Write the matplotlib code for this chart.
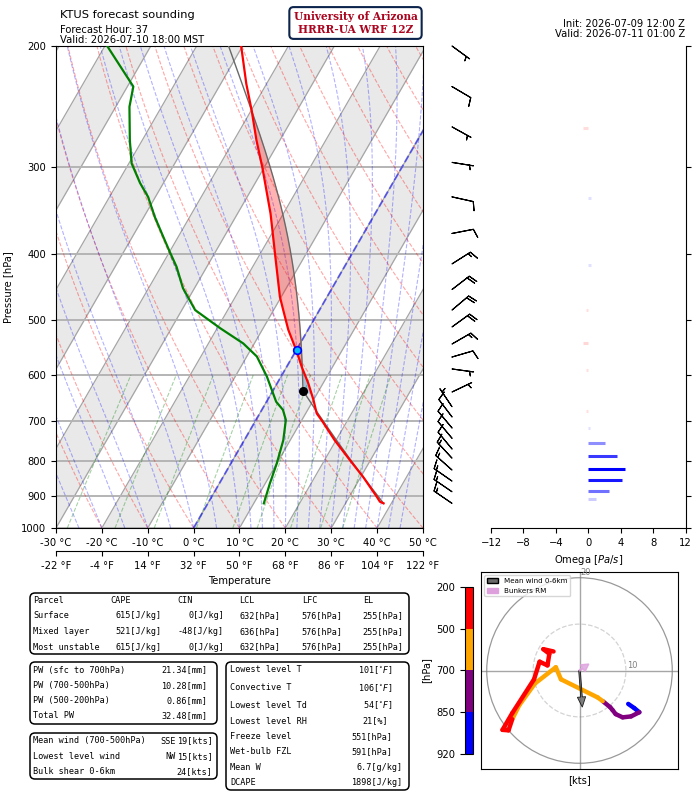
import numpy as np
import matplotlib
matplotlib.use("Agg")
import matplotlib.pyplot as plt
from matplotlib.patches import FancyBboxPatch, Circle, Patch
from matplotlib.collections import LineCollection
from matplotlib.colors import ListedColormap, BoundaryNorm
from matplotlib.colorbar import ColorbarBase
from matplotlib.ticker import NullLocator
from matplotlib.transforms import IdentityTransform

plt.rcParams['font.size'] = 7.2

# sounding
temp_p = [921, 916, 901, 843, 797, 746, 700, 682, 652, 617, 584, 555, 516, 483,
          462, 400, 350, 300, 274, 248, 227, 200]
temp_c = [38.3, 37.3, 36.0, 30.5, 25.5, 19.7, 14.6, 12.4, 10.0, 6.8, 3.3, 0.3,
          -4.3, -7.9, -10.3, -16.8, -22.8, -30.4, -35.1, -39.9, -44.4, -50.3]
dwpt_p = [921, 861, 806, 746, 697, 674, 656, 631, 603, 564, 540, 513, 483, 449,
          418, 398, 374, 354, 331, 316, 296, 274, 245, 229, 200]
dwpt_c = [12.2, 11.0, 10.0, 8.5, 6.5, 4.6, 2.1, -0.3, -3.1, -7.8, -12.4, -19.4,
          -27.1, -32.5, -36.6, -39.9, -44.0, -47.6, -51.6, -55.1, -59.4, -62.7,
          -67.0, -68.7, -79.5]

# winds in kts
wind_p = [921, 886, 855, 824, 792, 768, 741, 716, 690, 667, 635, 588, 565, 541,
          511, 483, 451, 414, 374, 331, 295, 262, 229, 200]
wind_u = [10.5, 11.8, 12.9, 11.1, 9.3, 7.8, 7.1, 6.6, 5.0, 3.9, -4.0, -5.1, -9.6,
          -13.0, -14.5, -15.3, -16.6, -14.5, -9.8, -8.6, -6.9, -6.5, -7.8, -5.6]
wind_v = [-7.2, -8.1, -9.0, -9.9, -10.1, -9.4, -8.5, -7.9, -6.6, -5.8, -1.9, 0.7,
          -2.8, -7.5, -10.5, -12.9, -12.8, -9.2, -1.9, 1.9, 1.1, 3.6, 4.6, 4.1]

omega_p = [909, 884, 853, 820, 786, 752, 716, 677, 590, 540, 483, 415, 332, 263]
omega_v = [0.9, 2.5, 4.1, 4.5, 3.5, 2.0, 0.2, -0.3, -0.3, -0.7, -0.3, 0.3, 0.3, -0.6]

lcl_p = 632
lfc_p = 576
el_p = 255
freeze_p = 551

hodo_bounds = [920, 850, 700, 500, 200]
hodo_colors = ['blue', 'purple', 'orange', 'red']
mean_wind = (0.6, -7.9)
bunkers_rm = (2.0, 1.4)

parcel_names = ['Surface', 'Mixed layer', 'Most unstable']
parcel_cape = [615, 521, 615]
parcel_cin = [0, -48, 0]
parcel_lcl = [632, 636, 632]
parcel_lfc = [576, 576, 576]
parcel_el = [255, 255, 255]

pw_labels = ['PW (sfc to 700hPa)', 'PW (700-500hPa)', 'PW (500-200hPa)', 'Total PW']
pw_values = [21.34, 10.28, 0.86, 32.48]

wind_labels = ['Mean wind (700-500hPa)', 'Lowest level wind', 'Bulk shear 0-6km']
wind_dirs = ['SSE', 'NW', '']
wind_speeds = [19, 15, 24]

thermo_labels = ['Lowest level T', 'Convective T', 'Lowest level Td', 'Lowest level RH',
                 'Freeze level', 'Wet-bulb FZL', 'Mean W', 'DCAPE']
thermo_values = ['101[$^{\\circ}F$]', '106[$^{\\circ}F$]', '54[$^{\\circ}F$]', '21[%]',
                 '551[hPa]', '591[hPa]', '6.7[g/kg]', '1898[J/kg]']

W, H = 697, 792
fig = plt.figure(figsize=(W / 100, H / 100), dpi=100)


def fbox(x0, y0, x1, y1):
    # pixel box (from top-left) -> figure fraction rect
    return [x0 / W, 1 - y1 / H, (x1 - x0) / W, (y1 - y0) / H]


# ---------------- skew-T ----------------
ax = fig.add_axes(fbox(56, 46, 423, 528))
ax.set_yscale('log')
ax.set_ylim(1000, 200)
ax.set_xlim(-30, 50)
K = np.tan(np.radians(30)) * (482 / np.log(5)) * (80 / 367)


def skx(t, p):
    return np.asarray(t, float) + K * np.log(1000 / np.asarray(p, float))


def sat_vp(t_c):
    return 6.112 * np.exp(17.67 * t_c / (t_c + 243.5))


def moist_dtdp(t_k, p):
    es = sat_vp(t_k - 273.15)
    rs = 0.622 * es / (p - es)
    num = 287.04 * t_k + 2.501e6 * rs
    den = 1005.7 + 2.501e6 ** 2 * rs * 0.622 / (287.04 * t_k ** 2)
    return num / den / p


def moist_lapse(t0_c, pres):
    t = np.atleast_1d(np.asarray(t0_c, float)) + 273.15
    out = [t.copy()]
    for p0, p1 in zip(pres[:-1], pres[1:]):
        h = p1 - p0
        k1 = moist_dtdp(t, p0)
        k2 = moist_dtdp(t + h / 2 * k1, p0 + h / 2)
        k3 = moist_dtdp(t + h / 2 * k2, p0 + h / 2)
        k4 = moist_dtdp(t + h * k3, p1)
        t = t + h / 6 * (k1 + 2 * k2 + 2 * k3 + k4)
        out.append(t.copy())
    return np.array(out) - 273.15


pp = np.geomspace(1000, 200, 80)
# shaded isotherm bands + isotherms
for t1 in range(-100, 41, 20):
    ax.fill_betweenx([1000, 200], skx([t1, t1], [1000, 200]), skx([t1 + 10] * 2, [1000, 200]),
                     color='#e9e9e9', lw=0, zorder=0)
for t in range(-100, 51, 10):
    ax.plot(skx([t, t], [1000, 200]), [1000, 200], color='#a5a5a5', lw=0.9, zorder=1)
for p in range(200, 1001, 100):
    ax.axhline(p, color='#b4b4b4', lw=1.4, zorder=1)

# dry adiabats
for th in np.arange(-40, 201, 10):
    tt = (th + 273.15) * (pp / 1000) ** 0.2857 - 273.15
    ax.plot(skx(tt, pp), pp, color='red', ls='--', lw=0.8, alpha=0.35, zorder=1)
# moist adiabats
t0_moist = np.concatenate((np.arange(-50., 10.1, 5.), np.arange(12.5, 45.1, 2.5)))
tm = moist_lapse(t0_moist, pp)
for i in range(len(t0_moist)):
    ax.plot(skx(tm[:, i], pp), pp, color='blue', ls='--', lw=0.8, alpha=0.3, zorder=1)
# mixing ratio lines
pm = np.linspace(1000, 600, 20)
for w in [0.0004, 0.001, 0.002, 0.004, 0.007, 0.01, 0.016, 0.024, 0.032]:
    e = w * pm / (0.622 + w)
    le = np.log(e / 6.112)
    td = 243.5 * le / (17.67 - le)
    ax.plot(skx(td, pm), pm, color='green', ls='--', lw=0.8, alpha=0.35, zorder=1)
# 0 degC isotherm
ax.plot(skx([0, 0], [1000, 200]), [1000, 200], color='blue', ls='--', lw=1.4, alpha=0.5, zorder=2)

# parcel
sfc_p, sfc_t = temp_p[0], temp_c[0]
theta = (sfc_t + 273.15) * (1000 / sfc_p) ** 0.2857
p_dry = np.geomspace(sfc_p, lcl_p, 30)
t_dry = theta * (p_dry / 1000) ** 0.2857 - 273.15
t_lcl = t_dry[-1]
p_moist = np.geomspace(lcl_p, 200, 150)
t_moist = moist_lapse(t_lcl, p_moist)[:, 0]
prof_p = np.concatenate((p_dry, p_moist[1:]))
prof_t = np.concatenate((t_dry, t_moist[1:]))
env_t = np.interp(np.log(prof_p)[::-1], np.log(temp_p)[::-1], np.array(temp_c)[::-1])[::-1]

ax.fill_betweenx(prof_p, skx(env_t, prof_p), skx(prof_t, prof_p),
                 where=(prof_t > env_t) & (prof_p <= lcl_p), interpolate=True,
                 color='red', alpha=0.3, lw=0, zorder=3)
ax.fill_betweenx(prof_p, skx(env_t, prof_p), skx(prof_t, prof_p),
                 where=(prof_t < env_t) & (prof_p <= lcl_p) & (prof_p >= lfc_p - 5), interpolate=True,
                 color='tab:blue', alpha=0.35, lw=0, zorder=3)
ax.plot(skx(prof_t, prof_p), prof_p, color='dimgray', lw=1, zorder=4)

ax.plot(skx(temp_c, temp_p), temp_p, color='red', lw=1.6, zorder=5)
ax.plot(skx(dwpt_c, dwpt_p), dwpt_p, color='green', lw=1.6, zorder=5)
ax.plot(skx(t_lcl, lcl_p), lcl_p, 'o', color='black', ms=5.5, zorder=6)
ax.plot(skx(0, freeze_p), freeze_p, 'o', mfc='deepskyblue', mec='blue', mew=1.2, ms=5.5, zorder=6)

ax.set_yticks(range(200, 1001, 100))
ax.set_yticklabels([str(p) for p in range(200, 1001, 100)])
ax.yaxis.set_minor_locator(NullLocator())
ax.set_xticks(range(-30, 51, 10))
ax.set_xticklabels(['%d °C' % t for t in range(-30, 51, 10)])
ax.set_ylabel('Pressure [hPa]', labelpad=6)
sec = ax.secondary_xaxis(-0.0477, functions=(lambda c: c * 9 / 5 + 32, lambda f: (f - 32) * 5 / 9))
fticks = [-22, -4, 14, 32, 50, 68, 86, 104, 122]
sec.set_xticks(fticks)
sec.set_xticklabels(['%d °F' % f for f in fticks])
sec.set_xlabel('Temperature')

# ---------------- wind barbs ----------------
bax = fig.add_axes(fbox(430, 46, 490, 528))
bax.set_yscale('log')
bax.set_ylim(1000, 200)
bax.set_xlim(0, 1)
bax.axis('off')
bax.barbs(np.full(len(wind_p), 22 / 60), wind_p, wind_u, wind_v, length=5.6, lw=0.8, clip_on=False)

# ---------------- omega ----------------
oax = fig.add_axes(fbox(491, 46, 685.7, 528))
oax.set_yscale('log')
oax.set_ylim(1000, 200)
oax.set_xlim(-12, 12)
oax.set_xticks([-12, -8, -4, 0, 4, 8, 12])
oax.spines['left'].set_visible(False)
oax.spines['top'].set_visible(False)
oax.yaxis.tick_right()
oax.set_yticks(range(200, 1001, 100))
oax.set_yticklabels([])
oax.yaxis.set_minor_locator(NullLocator())
oax.set_xlabel('Omega $[Pa/s]$')
for p, w in zip(omega_p, omega_v):
    oax.plot([0, w], [p, p], color='blue' if w > 0 else 'red', alpha=max(0.12, min(1.0, abs(w) / 4.5)),
             lw=2.2, solid_capstyle='butt')

# ---------------- header texts ----------------
fig.text(60 / W, 1 - 18.3 / H, 'KTUS forecast sounding', fontsize=8.2, va='baseline')
fig.text(60 / W, 1 - 32.7 / H, 'Forecast Hour: 37', va='baseline')
fig.text(60 / W, 1 - 42.7 / H, 'Valid: 2026-07-10 18:00 MST', va='baseline')
fig.text(685 / W, 1 - 27.3 / H, 'Init: 2026-07-09 12:00 Z', ha='right', va='baseline')
fig.text(685 / W, 1 - 37.3 / H, 'Valid: 2026-07-11 01:00 Z', ha='right', va='baseline')
fig.text(355.5 / W, 1 - 23 / H, 'University of Arizona\nHRRR-UA WRF 12Z', ha='center', va='center',
         family='serif', weight='bold', color='#AB0520', fontsize=7.6, linespacing=1.15,
         bbox=dict(boxstyle='round,pad=0.4', fc='white', ec='#0C234B', lw=1.5))

# ---------------- tables ----------------
mono = dict(family='DejaVu Sans Mono', fontsize=6.1, va='center')


def box(x0, y0, x1, y1):
    fig.patches.append(FancyBboxPatch((x0, H - y1), x1 - x0, y1 - y0,
                                      boxstyle='round,pad=0,rounding_size=5',
                                      transform=IdentityTransform(), fc='white', ec='black', lw=1.1))


def t(x, y, s, ha='left'):
    fig.text(x / W, 1 - y / H, s, ha=ha, **mono)


box(30, 593, 409, 654)
rows = [600.3, 615.8, 631.4, 647]
t(33.3, rows[0], 'Parcel')
for x, s in zip([110.7, 177.7, 239, 301.7, 363.3], ['CAPE', 'CIN', 'LCL', 'LFC', 'EL']):
    t(x, rows[0], s)
for i, name in enumerate(parcel_names):
    y = rows[i + 1]
    t(33.3, y, name)
    t(162, y, '%d[J/kg]' % parcel_cape[i], 'right')
    t(224, y, '%d[J/kg]' % parcel_cin[i], 'right')
    t(280, y, '%d[hPa]' % parcel_lcl[i], 'right')
    t(342, y, '%d[hPa]' % parcel_lfc[i], 'right')
    t(403.5, y, '%d[hPa]' % parcel_el[i], 'right')

box(30, 662, 217, 724)
for i, (lab, val) in enumerate(zip(pw_labels, pw_values)):
    y = 670 + i * 15.3
    t(33.3, y, lab)
    t(207.5, y, '%.2f[mm]' % val, 'right')

box(30, 733, 217, 779)
for i, (lab, d, s) in enumerate(zip(wind_labels, wind_dirs, wind_speeds)):
    y = 741 + i * 15.3
    t(33.3, y, lab)
    t(176, y, d, 'right')
    t(212.5, y, '%d[kts]' % s, 'right')

box(226, 662, 409, 790)
thermo_rows = [670, 687.7, 705, 721, 736.3, 752, 767.3, 782.3]
thermo_right = [392.7, 392.7, 392.7, 388, 392.7, 392.7, 402.7, 402.7]
for lab, val, y, xr in zip(thermo_labels, thermo_values, thermo_rows, thermo_right):
    t(230, y, lab)
    t(xr, y, val, 'right')

# ---------------- hodograph ----------------
hax = fig.add_axes(fbox(480.7, 571.7, 678.3, 769.3))
hax.set_xlim(-21.3, 21.3)
hax.set_ylim(-21.3, 21.3)
hax.set_xticks([])
hax.set_yticks([])
hax.set_xlabel('[kts]')
hax.add_patch(Circle((0, 0), 20, fill=False, ec='gray', lw=0.9, alpha=0.8))
hax.add_patch(Circle((0, 0), 10, fill=False, ec='lightgray', lw=0.9, ls='--'))
hax.axhline(0, color='gray', lw=1, alpha=0.7)
hax.axvline(0, color='gray', lw=1, alpha=0.7)
hax.text(0.1, 20.1, '20', color='gray', fontsize=6, ha='left', va='bottom')
hax.text(10.2, 0.15, '10', color='gray', fontsize=6, ha='left', va='bottom')

segs, cols = [], []
for i in range(len(wind_p) - 1):
    segs.append([(wind_u[i], wind_v[i]), (wind_u[i + 1], wind_v[i + 1])])
    pmid = 0.5 * (wind_p[i] + wind_p[i + 1])
    k = 0
    while k < 3 and pmid < hodo_bounds[k + 1]:
        k += 1
    cols.append(hodo_colors[k])
hax.add_collection(LineCollection(segs, colors=cols, linewidths=3.2, capstyle='round', zorder=3))
hax.arrow(0, 0, mean_wind[0], mean_wind[1], width=0.35, head_width=1.8, head_length=2.2,
          length_includes_head=True, fc='dimgray', ec='black', lw=0.6, alpha=0.85, zorder=5)
hax.arrow(0, 0, bunkers_rm[0], bunkers_rm[1], width=0.3, head_width=1.8, head_length=1.6,
          length_includes_head=True, fc='plum', ec='plum', alpha=0.8, zorder=5)
hax.legend(handles=[Patch(fc='dimgray', ec='black', label='Mean wind 0-6km'),
                    Patch(fc='plum', ec='plum', label='Bunkers RM')],
           loc='upper left', fontsize=5.1, borderpad=0.4, handlelength=1.6)

cax = fig.add_axes(fbox(465, 586.7, 473.3, 754))
cb = ColorbarBase(cax, cmap=ListedColormap(hodo_colors), norm=BoundaryNorm(np.arange(5), 4),
                  ticks=np.arange(5))
cb.set_ticklabels([str(b) for b in hodo_bounds])
cax.yaxis.set_ticks_position('left')
cax.yaxis.set_label_position('left')
cb.set_label('[hPa]')

fig.savefig('out.png', dpi=100)
